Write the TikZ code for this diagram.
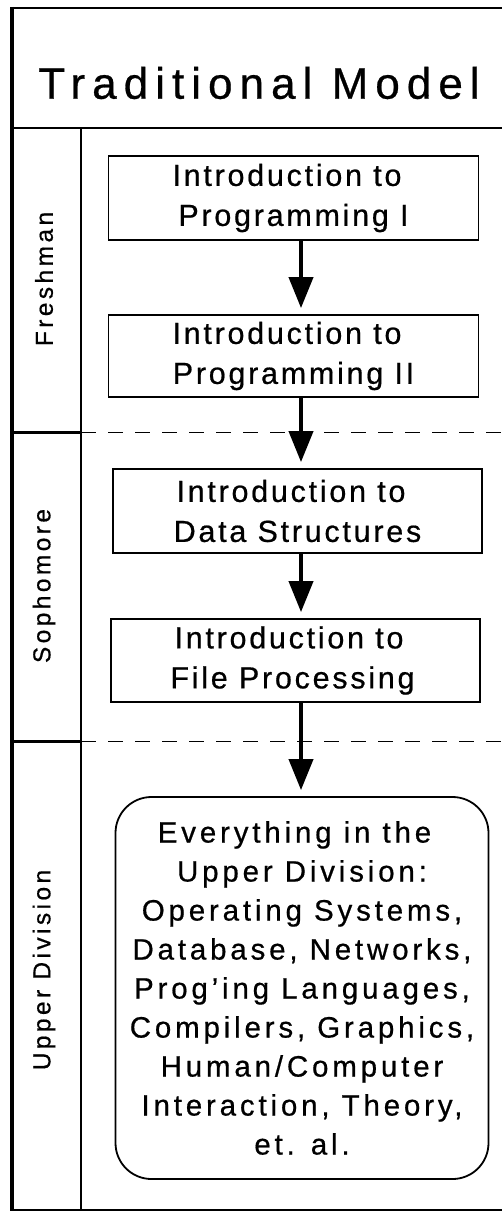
\documentclass[tikz,border=0pt]{standalone}
\usepackage{fontspec}
\setmainfont{Liberation Sans}
\newfontfamily\titlefont[LetterSpace=16,FakeBold=0.6]{Liberation Sans}
\newfontfamily\boxfont[LetterSpace=9,FakeBold=0.6]{Liberation Sans}
\newfontfamily\bigboxfont[LetterSpace=13,FakeBold=0.6]{Liberation Sans}
\newfontfamily\sidefont[LetterSpace=14,FakeBold=0.6]{Liberation Sans}
\usetikzlibrary{arrows.meta}
\newcommand{\trail}{\hspace*{13pt}}
\tikzset{
  frameline/.style={line width=2pt},
  outerline/.style={line width=3.5pt},
  sepline/.style={line width=3pt},
  innerline/.style={line width=1.8pt},
  dashline/.style={line width=1pt, dash pattern=on 15pt off 12pt},
  course/.style={draw, line width=1.8pt, minimum width=370pt, minimum height=84pt, align=center,
     font=\boxfont\fontsize{30.5}{40}\selectfont, inner sep=0pt},
  bigbox/.style={draw, line width=1.8pt, rounded corners=36pt, minimum width=373pt, minimum height=382pt,
     align=center, font=\bigboxfont\fontsize{29.5}{39}\selectfont, inner sep=0pt},
  sidelabel/.style={rotate=90, font=\sidefont\fontsize{24.5}{28}\selectfont, inner sep=0pt},
  arr/.style={line width=4pt, -{Triangle[length=31pt,width=24pt]}, shorten >=6pt},
}
\begin{document}
\begin{tikzpicture}[x=1pt,y=-1pt]
\useasboundingbox (0,0) rectangle (501,1212);
% title box
\draw[frameline] (12,8) -- (510,8);
\draw[frameline] (12,128) -- (510,128);
\node[font=\titlefont\fontsize{44}{48}\selectfont, inner sep=0pt] (title) at (259,83) {Traditional Model};
% left frame
\draw[outerline] (12,7) -- (12,1211);
\draw[innerline] (81,128) -- (81,1211);
\draw[sepline] (12,432) -- (81,432);
\draw[sepline] (12,741) -- (81,741);
\draw[frameline] (12,1210) -- (510,1210);
\draw[dashline] (81,432) -- (501,432);
\draw[dashline] (81,741) -- (501,741);
% side labels
\node[sidelabel] (fresh) at (44,279) {Freshman};
\node[sidelabel] (soph) at (44,586) {Sophomore};
\node[sidelabel] (upper) at (44,970) {Upper Division};
% courses
\node[course] (b1) at (293.5,198) {Introduction to\trail\\Programming I};
\node[course, minimum height=82pt] (b2) at (293.5,356) {Introduction to\trail\\Programming II};
\node[course, minimum width=369pt] (b3) at (297.5,511) {Introduction to\trail\\Data Structures};
\node[course, minimum width=369pt, minimum height=83pt] (b4) at (295.5,660.5) {Introduction to\trail\\File Processing\hspace*{6pt}};
\node[bigbox] (b5) at (302,988) {Everything in the\hspace*{15pt}\\Upper Division:\\Operating Systems,\hspace*{15pt}\\Database, Networks,\\Prog’ing Languages,\\Compilers, Graphics,\\Human/Computer\\Interaction, Theory,\\et. al.};
% arrows
\coordinate (ax) at (301,0);
\draw[arr] (b1.south -| ax) -- (b2.north -| ax);
\draw[arr] (b2.south -| ax) -- (b3.north -| ax);
\draw[arr] (b3.south -| ax) -- (b4.north -| ax);
\draw[arr] (b4.south -| ax) -- (b5.north -| ax);
\end{tikzpicture}
\end{document}
